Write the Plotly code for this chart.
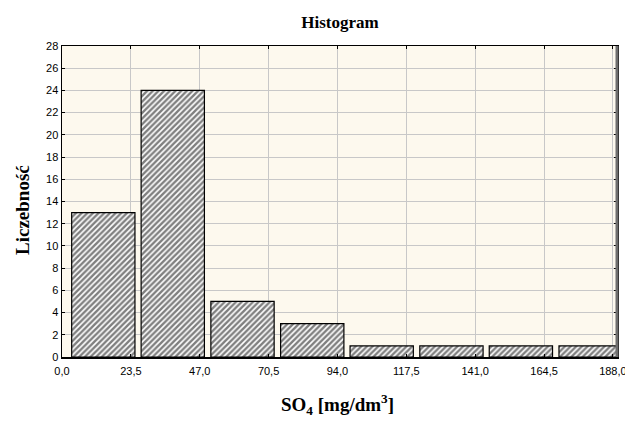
import plotly.graph_objects as go

# Data
bin_centers = [14.1, 37.8, 61.6, 85.4, 109.1, 132.9, 156.6, 180.4]
counts = [13, 24, 5, 3, 1, 1, 1, 1]
bar_width = 21.6
x_tickvals = [0.0, 23.5, 47.0, 70.5, 94.0, 117.5, 141.0, 164.5, 188.0]
y_tickvals = list(range(0, 29, 2))

W, H = 625, 421
L, R, T, B = 62, 8, 46, 64

fig = go.Figure()
fig.add_trace(go.Bar(
    x=bin_centers,
    y=counts,
    width=[bar_width] * len(bin_centers),
    marker=dict(
        color="white",
        line=dict(color="black", width=1.2),
        pattern=dict(shape="/", fgcolor="black", bgcolor="white", size=4, solidity=0.6),
    ),
    showlegend=False,
    hoverinfo="skip",
))

fig.update_layout(
    width=W,
    height=H,
    margin=dict(l=L, r=R, t=T, b=B, autoexpand=False),
    paper_bgcolor="white",
    plot_bgcolor="#FDF9EE",
    separators=",.",
    title=dict(
        text="<b>Histogram</b>",
        x=340 / W,
        xanchor="center",
        y=1 - 22 / H,
        yanchor="middle",
        font=dict(family="Liberation Serif", size=17, color="black"),
    ),
    font=dict(family="Liberation Sans", size=11, color="black"),
    bargap=0,
    annotations=[
        dict(
            text="<b>SO<sub>4</sub> [mg/dm<sup>3</sup>]</b>",
            xref="paper", yref="paper",
            x=(337 - L) / (W - L - R),
            y=-(404 - (H - B)) / (H - T - B),
            xanchor="center", yanchor="middle",
            showarrow=False,
            font=dict(family="Liberation Serif", size=19, color="black"),
        ),
        dict(
            text="<b>Liczebność</b>",
            xref="paper", yref="paper",
            x=-(L - 22) / (W - L - R),
            y=((H - B) - 210) / (H - T - B),
            xanchor="center", yanchor="middle",
            textangle=-90,
            showarrow=False,
            font=dict(family="Liberation Serif", size=19, color="black"),
        ),
    ],
    shapes=[
        dict(type="line", xref="paper", yref="paper", x0=1, x1=1, y0=0, y1=1,
             line=dict(color="#6E6E6E", width=3)),
    ],
)

fig.update_xaxes(
    range=[0, 189.4],
    tickvals=x_tickvals,
    tickformat=".1f",
    automargin=False,
    ticklabeloverflow="allow",
    ticklabelstandoff=3,
    showgrid=True,
    gridcolor="#C8C8C8",
    gridwidth=1,
    zeroline=False,
    showline=True,
    linecolor="black",
    linewidth=1.5,
    mirror="ticks",
    ticks="inside",
    ticklen=3,
    tickcolor="black",
    tickfont=dict(family="Liberation Sans", size=11, color="black"),
)

fig.update_yaxes(
    range=[0, 28],
    tickvals=y_tickvals,
    automargin=False,
    showgrid=True,
    gridcolor="#C8C8C8",
    gridwidth=1,
    zeroline=False,
    showline=True,
    linecolor="black",
    linewidth=1.5,
    mirror="ticks",
    ticks="inside",
    ticklen=3,
    tickcolor="black",
    tickfont=dict(family="Liberation Sans", size=11, color="black"),
)

fig.write_html(
    "out.html",
    config={"displayModeBar": False, "staticPlot": True},
    post_script="document.body.style.margin='0';document.body.style.overflow='hidden';",
)
